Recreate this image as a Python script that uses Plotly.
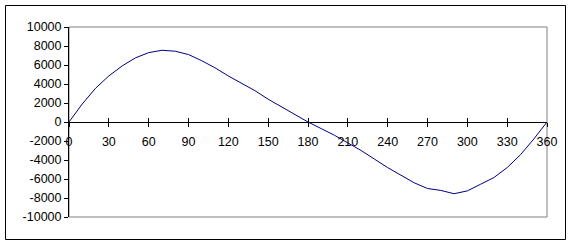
import plotly.graph_objects as go

angles = list(range(0, 361, 10))
values = [0, 1900, 3550, 4850, 5900, 6750, 7300, 7550, 7450, 7100,
          6450, 5700, 4850, 4100, 3300, 2400, 1600, 800, 0, -700,
          -1400, -2200, -3000, -3900, -4800, -5600, -6400, -7000, -7200, -7550,
          -7250, -6550, -5850, -4800, -3450, -1800, 0]

x_ticks = list(range(0, 361, 30))
y_ticks = list(range(-10000, 10001, 2000))

FONT = dict(family="Liberation Sans, Arial, sans-serif", size=12.5, color="black")

fig = go.Figure()
fig.add_trace(go.Scatter(x=angles, y=values, mode="lines",
                         line=dict(color="#000080", width=1), showlegend=False,
                         hoverinfo="skip"))
# dummy trace on the overlay axis so it is drawn
fig.add_trace(go.Scatter(x=[0], y=[0], xaxis="x2", mode="markers",
                         marker=dict(opacity=0), showlegend=False, hoverinfo="skip"))

W, H = 575, 245
L, R, T, B = 69, 28, 27, 28
pw, ph = W - L - R, H - T - B

def px(xp):
    return (xp - L) / pw

def py(yp):
    return (H - B - yp) / ph

fig.update_layout(
    width=W, height=H,
    margin=dict(l=L, r=R, t=T, b=B),
    paper_bgcolor="white", plot_bgcolor="white",
    font=FONT,
    xaxis=dict(range=[0, 360], tickvals=x_ticks, ticktext=[str(v) for v in x_ticks],
               showgrid=False, zeroline=False, showline=True, linecolor="black",
               linewidth=1, ticks="outside", ticklen=4, tickcolor="black",
               anchor="free", position=0.5, tickfont=FONT, ticklabelstandoff=4),
    xaxis2=dict(range=[0, 360], tickvals=x_ticks, showticklabels=False,
                overlaying="x", side="bottom", anchor="free", position=0.5,
                showgrid=False, zeroline=False, showline=False,
                ticks="inside", ticklen=4, tickcolor="black"),
    yaxis=dict(range=[-10000, 10000], tickvals=y_ticks,
               ticktext=[str(v) for v in y_ticks],
               showgrid=False, zeroline=False, showline=True, linecolor="black",
               linewidth=1, ticks="outside", ticklen=4, tickcolor="black",
               tickfont=FONT),
    shapes=[
        dict(type="rect", xref="paper", yref="paper", x0=0, x1=1, y0=0, y1=1,
             line=dict(color="#808080", width=1), layer="below"),
        dict(type="rect", xref="paper", yref="paper",
             x0=px(5.5), x1=px(565.5), y0=py(239.5), y1=py(5.5),
             line=dict(color="black", width=1), layer="below"),
    ],
)

fig.write_html("out.html")
